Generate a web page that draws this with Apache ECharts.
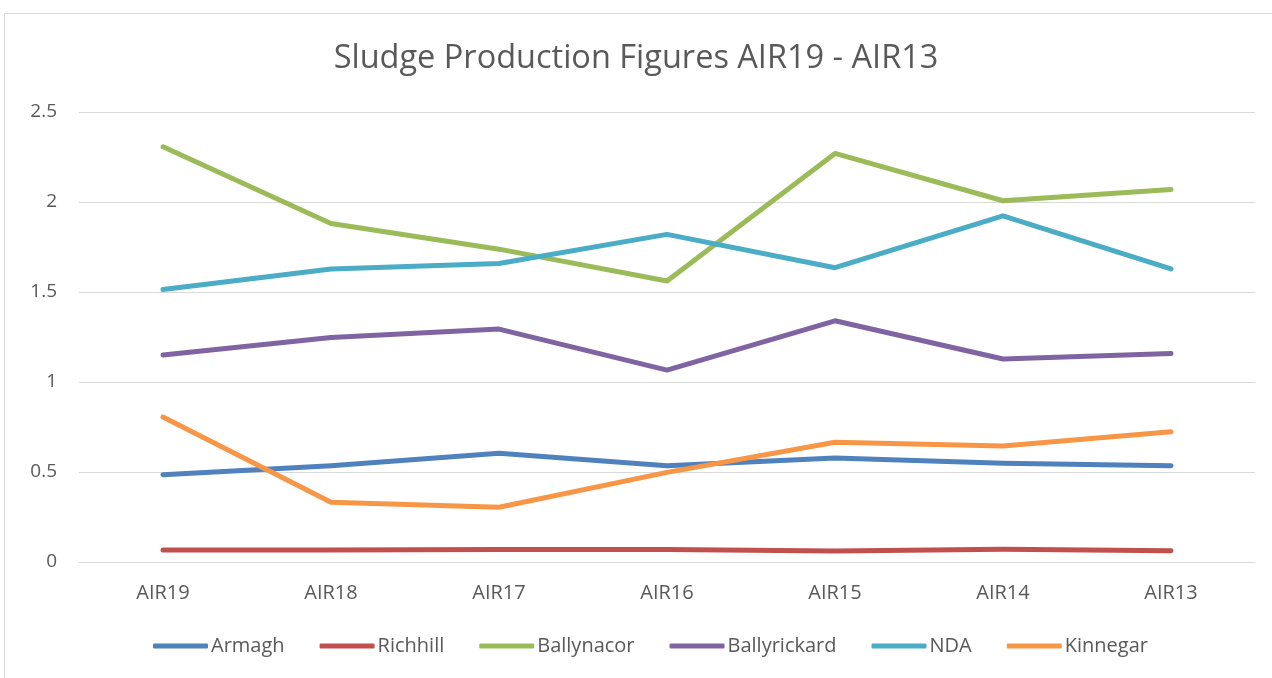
<!DOCTYPE html>
<html>
<head>
<meta charset="utf-8">
<script src="https://cdn.jsdelivr.net/npm/echarts@6/dist/echarts.min.js"></script>
<style>
  html, body { margin: 0; padding: 0; background: #fff; }
  #frame { position: absolute; left: 4px; top: 13px; width: 1280px; height: 670px; border: 1px solid #d9d9d9; box-sizing: border-box; }
  #main { position: absolute; left: 0; top: 0; width: 1272px; height: 678px; }
</style>
</head>
<body>
<div id="frame"></div>
<div id="main"></div>
<script>
const categories = ['AIR19', 'AIR18', 'AIR17', 'AIR16', 'AIR15', 'AIR14', 'AIR13'];
const armagh = [0.485, 0.535, 0.604, 0.535, 0.578, 0.548, 0.535];
const richhill = [0.066, 0.066, 0.069, 0.069, 0.061, 0.071, 0.063];
const ballynacor = [2.307, 1.881, 1.738, 1.561, 2.27, 2.007, 2.07];
const ballyrickard = [1.15, 1.247, 1.294, 1.066, 1.34, 1.128, 1.159];
const nda = [1.514, 1.628, 1.658, 1.82, 1.635, 1.923, 1.628];
const kinnegar = [0.805, 0.332, 0.304, 0.498, 0.665, 0.644, 0.724];

const seriesDefs = [
    ['Armagh', armagh, '#4F81BD'],
    ['Richhill', richhill, '#C0504D'],
    ['Ballynacor', ballynacor, '#9BBB59'],
    ['Ballyrickard', ballyrickard, '#8064A2'],
    ['NDA', nda, '#4BACC6'],
    ['Kinnegar', kinnegar, '#F79646']
];

const font = 'Open Sans';
const textColor = '#595959';

let myChart = echarts.init(document.getElementById('main'));
let option = {
    animation: false,
    title: {
        text: 'Sludge Production Figures AIR19 - AIR13',
        left: 'center',
        top: 37,
        textStyle: { fontFamily: font, fontSize: 32.5, fontWeight: 'normal', color: textColor }
    },
    legend: {
        bottom: 17,
        left: 148,
        itemWidth: 55,
        itemHeight: 5,
        itemGap: 35,
        icon: 'roundRect',
        textStyle: { fontFamily: font, fontSize: 20, color: textColor, padding: [0, 0, 0, -2] }
    },
    grid: { left: 79, right: 17, top: 112, bottom: 116 },
    xAxis: {
        type: 'category',
        data: categories,
        axisLine: { lineStyle: { color: '#d9d9d9', width: 1 } },
        axisTick: { show: false },
        axisLabel: { fontFamily: font, fontSize: 20, color: textColor, margin: 21 }
    },
    yAxis: {
        type: 'value',
        min: 0,
        max: 2.5,
        interval: 0.5,
        axisLine: { show: false },
        axisTick: { show: false },
        splitLine: { lineStyle: { color: '#d9d9d9', width: 1 } },
        axisLabel: { fontFamily: font, fontSize: 19, color: textColor, margin: 22 }
    },
    series: seriesDefs.map(([name, values, color]) => ({
        name: name,
        type: 'line',
        data: values,
        symbol: 'none',
        color: color,
        lineStyle: { width: 5, color: color, cap: 'round', join: 'round' }
    }))
};
myChart.setOption(option);
</script>
</body>
</html>
